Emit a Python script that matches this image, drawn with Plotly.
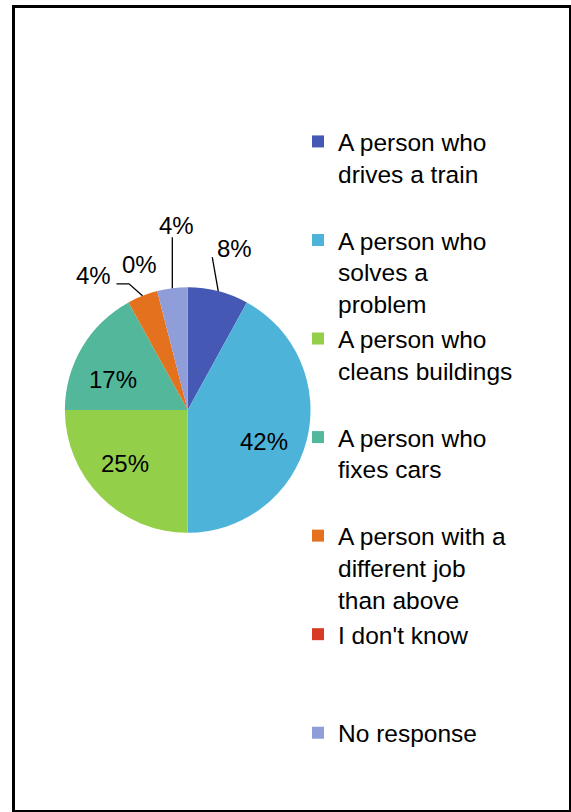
import math
import plotly.graph_objects as go

# Survey answers, share of respondents (%)
labels = [
    "A person who<br>drives a train",
    "A person who<br>solves a<br>problem",
    "A person who<br>cleans buildings",
    "A person who<br>fixes cars",
    "A person with a<br>different job<br>than above",
    "I don't know",
    "No response",
]
values = [8, 42, 25, 17, 4, 0, 4]
colors = ["#4458B4", "#4EB3D8", "#94CF4A", "#52B79B", "#E3711E", "#D83B24", "#8F9DD8"]

W, H = 571, 812
FONT = "Liberation Sans, Arial, sans-serif"

# pie placement (paper domain)
dom_x = [64.9 / W, 310.5 / W]
dom_y = [1 - 532.8 / H, 1 - 287.2 / H]


# legend entries padded to three lines so every entry takes the same height
# (the last one needs no padding)
def pad(lbl, n=3):
    k = lbl.count("<br>") + 1
    return lbl + "<br> " * (n - k)


legend_labels = [pad(l) for l in labels[:-1]] + [labels[-1]]

total = sum(values)
texts = [f"{v}%" for v in values]

fig = go.Figure(
    go.Pie(
        labels=legend_labels,
        values=values,
        textinfo="none",
        marker=dict(colors=colors, line=dict(width=0)),
        sort=False,
        direction="clockwise",
        rotation=0,
        domain=dict(x=dom_x, y=dom_y),
        hoverinfo="label+percent",
    )
)

# geometry of the pie in pixels, used to attach the value labels to slices
cx = (dom_x[0] + dom_x[1]) / 2 * W
cy = (1 - (dom_y[0] + dom_y[1]) / 2) * H
R = min((dom_x[1] - dom_x[0]) * W, (dom_y[1] - dom_y[0]) * H) / 2


def px2paper(x, y):
    return x / W, 1 - y / H


def slice_point(i, frac=1.0):
    start = sum(values[:i]) / total * 360
    mid = math.radians(start + values[i] / total * 360 / 2)
    return cx + frac * R * math.sin(mid), cy - frac * R * math.cos(mid)


# value labels: (radius fraction of the anchor, x offset px, y offset px)
label_place = {
    0: (1.0, 16, -43),
    1: (0.67, -3, 11),
    2: (0.67, -5, -5),
    3: (0.67, -4, 11),
    4: (1.0, -49, -20),
    5: (1.0, -18, -27),
    6: (1.0, 4, -63),
}
# leader lines from the outside labels to the slice edge (relative px)
leaders = {
    0: [(-6, -34), (0, 0)],
    4: [(-26, -12), (-13.5, -12), (0, 0)],
    6: [(0, -51), (0, 0)],
}

annotations = []
shapes = []
for i, (frac, dx, dy) in label_place.items():
    px, py = slice_point(i, frac)
    ax, ay = px2paper(px, py)
    annotations.append(
        dict(
            x=ax, y=ay, xref="paper", yref="paper",
            text=texts[i], showarrow=False,
            xshift=dx, yshift=-dy,
            xanchor="center", yanchor="middle",
            font=dict(family=FONT, size=24, color="black"),
        )
    )
for i, pts in leaders.items():
    px, py = slice_point(i)
    path = ""
    for k, (ox, oy) in enumerate(pts):
        qx, qy = px2paper(px + ox, py + oy)
        path += ("M" if k == 0 else "L") + f"{qx:.5f},{qy:.5f}"
    shapes.append(
        dict(type="path", path=path, xref="paper", yref="paper",
             line=dict(color="black", width=1.3))
    )

# chart frame
fx0, fy0 = px2paper(13.5, 6.5)
fx1, fy1 = px2paper(570.5, 811.5)
shapes.append(
    dict(type="rect", xref="paper", yref="paper",
         x0=fx0, y0=fy1, x1=fx1, y1=fy0,
         line=dict(color="black", width=3), fillcolor="rgba(0,0,0,0)")
)

fig.update_layout(
    width=W,
    height=H,
    margin=dict(l=0, r=0, t=0, b=0),
    paper_bgcolor="white",
    plot_bgcolor="white",
    font=dict(family=FONT, color="black"),
    showlegend=True,
    legend=dict(
        x=298 / W, xanchor="left",
        y=1 - 119 / H, yanchor="top",
        font=dict(family=FONT, size=24.5, color="black"),
        valign="top",
        bgcolor="rgba(0,0,0,0)",
        borderwidth=0,
        traceorder="normal",
    ),
    annotations=annotations,
    shapes=shapes,
)

fig.write_html("out.html")
